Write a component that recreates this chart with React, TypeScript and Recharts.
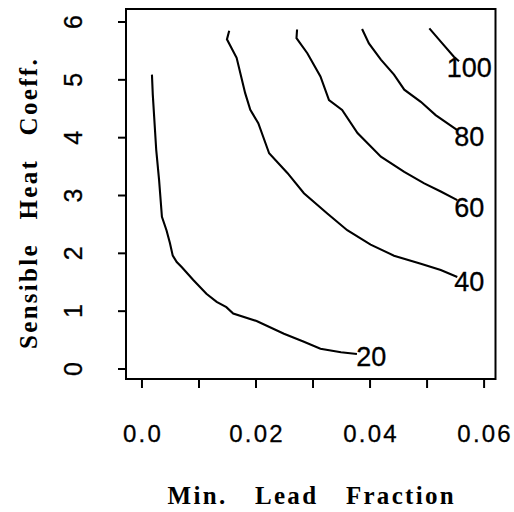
import React from 'react';
import { ComposedChart, Scatter, XAxis, YAxis, ReferenceArea } from 'recharts';

// axis setup
const xDomain = [-0.0028, 0.062];
const yDomain = [-0.173, 6.225];
const xTicks = [0, 0.01, 0.02, 0.03, 0.04, 0.05, 0.06];
const xTickLabels = ['0.0', '', '0.02', '', '0.04', '', '0.06'];
const yTicks = [0, 1, 2, 3, 4, 5, 6];
const yTickLabels = ['0', '1', '2', '3', '4', '5', '6'];

// contour lines
const level20 = [
  { x: 0.00175, y: 5.09 }, { x: 0.0019, y: 4.74 }, { x: 0.0025, y: 3.79 },
  { x: 0.003, y: 3.27 }, { x: 0.0035, y: 2.63 }, { x: 0.0043, y: 2.4 },
  { x: 0.0049, y: 2.18 }, { x: 0.0054, y: 1.96 }, { x: 0.0061, y: 1.85 },
  { x: 0.007, y: 1.76 }, { x: 0.009, y: 1.54 }, { x: 0.0113, y: 1.3 },
  { x: 0.0131, y: 1.16 }, { x: 0.0148, y: 1.07 }, { x: 0.016, y: 0.96 },
  { x: 0.0201, y: 0.83 }, { x: 0.0249, y: 0.61 }, { x: 0.0284, y: 0.47 },
  { x: 0.0313, y: 0.35 }, { x: 0.0349, y: 0.29 }, { x: 0.0377, y: 0.26 },
];
const level40 = [
  { x: 0.0153, y: 5.85 }, { x: 0.0149, y: 5.7 }, { x: 0.0166, y: 5.38 },
  { x: 0.0181, y: 4.77 }, { x: 0.019, y: 4.48 }, { x: 0.0204, y: 4.25 },
  { x: 0.0223, y: 3.73 }, { x: 0.0255, y: 3.39 }, { x: 0.0284, y: 3.04 },
  { x: 0.0325, y: 2.69 }, { x: 0.036, y: 2.4 }, { x: 0.0401, y: 2.15 },
  { x: 0.0442, y: 1.96 }, { x: 0.0489, y: 1.82 }, { x: 0.0524, y: 1.71 },
  { x: 0.0553, y: 1.59 },
];
const level60 = [
  { x: 0.0272, y: 5.87 }, { x: 0.0271, y: 5.72 }, { x: 0.029, y: 5.46 },
  { x: 0.0313, y: 5.06 }, { x: 0.0328, y: 4.65 }, { x: 0.0351, y: 4.48 },
  { x: 0.0378, y: 4.08 }, { x: 0.0419, y: 3.67 }, { x: 0.046, y: 3.41 },
  { x: 0.0495, y: 3.21 }, { x: 0.0524, y: 3.07 }, { x: 0.0553, y: 2.92 },
];
const level80 = [
  { x: 0.0386, y: 5.88 }, { x: 0.0398, y: 5.63 }, { x: 0.0419, y: 5.35 },
  { x: 0.0442, y: 5.09 }, { x: 0.046, y: 4.83 }, { x: 0.0489, y: 4.62 },
  { x: 0.0515, y: 4.39 }, { x: 0.0553, y: 4.13 },
];
const level100 = [
  { x: 0.0504, y: 5.89 }, { x: 0.0524, y: 5.66 }, { x: 0.0547, y: 5.4 },
  { x: 0.0556, y: 5.32 },
];
const contourLabels = [
  { x: 0.0574, y: 5.2, label: '100' },
  { x: 0.0574, y: 4.01, label: '80' },
  { x: 0.0574, y: 2.78, label: '60' },
  { x: 0.0574, y: 1.5, label: '40' },
  { x: 0.0402, y: 0.21, label: '20' },
];

const contours = [level20, level40, level60, level80, level100];

const sans = '"Liberation Sans", Arial, sans-serif';
const serif = '"Liberation Serif", "Times New Roman", serif';

const XTick = (props: any) => {
  const { x, y, payload } = props;
  const label = xTickLabels[xTicks.indexOf(payload.value)];
  return (
    <g>
      <line x1={x} x2={x} y1={y + 1} y2={y + 9} stroke="#000" strokeWidth={2} />
      {label && (
        <text x={x + 1} y={y + 63} textAnchor="middle" fontFamily={sans} fontSize={24} letterSpacing={2.2} fill="#000" stroke="#000" strokeWidth={0.3}>
          {label}
        </text>
      )}
    </g>
  );
};

const YTick = (props: any) => {
  const { x, y, payload } = props;
  const label = yTickLabels[yTicks.indexOf(payload.value)];
  const tx = x - 44;
  return (
    <g>
      <line x1={x - 8} x2={x - 1} y1={y} y2={y} stroke="#000" strokeWidth={2} />
      <text x={tx} y={y} transform={`rotate(-90, ${tx}, ${y})`} textAnchor="middle" fontFamily={sans} fontSize={25} fill="#000" stroke="#000" strokeWidth={0.3}>
        {label}
      </text>
    </g>
  );
};

const ContourLabel = (props: any) => {
  const { cx, cy, payload } = props;
  return (
    <text x={cx} y={cy} textAnchor="middle" dominantBaseline="central" fontFamily={sans} fontSize={27} fill="#000" stroke="#000" strokeWidth={0.3}>
      {payload.label}
    </text>
  );
};

const XTitle = (props: any) => {
  const { x, y, width } = props.viewBox;
  return (
    <text x={x + width / 2 + 1} y={y + 125} textAnchor="middle" fontFamily={serif} fontWeight="bold" fontSize={25} letterSpacing={2.3} wordSpacing={19} fill="#000">
      Min. Lead Fraction
    </text>
  );
};

const YTitle = () => {
  const tx = 37;
  const ty = 203;
  return (
    <text x={tx} y={ty} transform={`rotate(-90, ${tx}, ${ty})`} textAnchor="middle" fontFamily={serif} fontWeight="bold" fontSize={25} letterSpacing={2.3} wordSpacing={15} fill="#000">
      Sensible Heat Coeff.
    </text>
  );
};

export default function App() {
  return (
    <div style={{ position: 'absolute', left: 0, top: 0, background: '#fff' }}>
      <ComposedChart width={514} height={512} margin={{ top: 9, right: 18.5, bottom: 0, left: 0 }}>
        <XAxis
          type="number"
          dataKey="x"
          domain={xDomain}
          ticks={xTicks}
          interval={0}
          allowDataOverflow
          axisLine={false}
          tickLine={false}
          tickSize={0}
          tickMargin={0}
          height={133}
          tick={<XTick />}
          label={{ content: <XTitle /> }}
        />
        <YAxis
          type="number"
          dataKey="y"
          domain={yDomain}
          ticks={yTicks}
          interval={0}
          allowDataOverflow
          axisLine={false}
          tickLine={false}
          tickSize={0}
          tickMargin={0}
          width={126}
          tick={<YTick />}
          label={{ content: <YTitle /> }}
        />
        <ReferenceArea
          x1={xDomain[0]}
          x2={xDomain[1]}
          y1={yDomain[0]}
          y2={yDomain[1]}
          fill="none"
          fillOpacity={0}
          stroke="#000"
          strokeWidth={2}
          ifOverflow="visible"
        />
        {contours.map((pts, i) => (
          <Scatter
            key={i}
            data={pts}
            line={{ stroke: '#000', strokeWidth: 2.1 }}
            lineType="joint"
            shape={() => <g />}
            isAnimationActive={false}
          />
        ))}
        <Scatter data={contourLabels} shape={<ContourLabel />} isAnimationActive={false} />
      </ComposedChart>
    </div>
  );
}
